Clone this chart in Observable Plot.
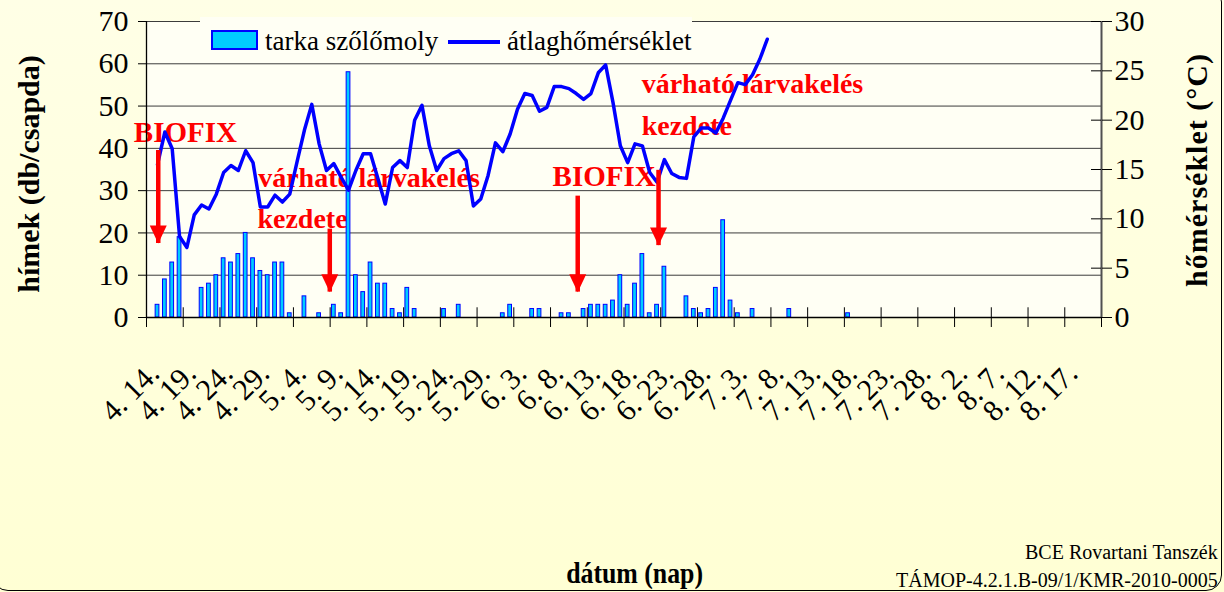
<!DOCTYPE html>
<html>
<head>
<meta charset="utf-8">
<script src="https://cdn.jsdelivr.net/npm/d3@7"></script>
<script src="https://cdn.jsdelivr.net/npm/@observablehq/plot@0.6"></script>
<style>
  html, body { margin: 0; padding: 0; background: #FFFFE0; }
  body { width: 1224px; height: 592px; overflow: hidden; font-family: "Liberation Serif", "Times New Roman", serif; }
  #wrap { position: relative; width: 1224px; height: 592px; overflow: hidden;
          background: linear-gradient(#FFFFE6, #FFFFD4); }
  #chart { position: absolute; left: 0; top: 0; }
  #border { position: absolute; left: -8px; top: -14px; width: 1230px; height: 605px; box-sizing: border-box;
            border: 1.5px solid #000; border-radius: 16px; pointer-events: none; }
  .abs { position: absolute; white-space: nowrap; }
  #legend { position: absolute; left: 200px; top: 17px; width: 492px; height: 41px; background: #FFFFF4; }
  .ylab { font-weight: bold; font-size: 30px; line-height: 30px; transform-origin: center center; }
</style>
</head>
<body>
<div id="wrap">
  <div id="chart"></div>
  <div id="legend">
    <div class="abs" style="left:11px;top:13px;width:43px;height:16px;background:#00CCFF;border:2px solid #0000FF;"></div>
    <div class="abs" id="lg1" style="left:65px;top:11px;font-size:27px;line-height:27px;"></div>
    <div class="abs" style="left:248px;top:23px;width:52px;height:4px;background:#0000FF;"></div>
    <div class="abs" id="lg2" style="left:307px;top:11px;font-size:27px;line-height:27px;"></div>
  </div>
  <div class="abs ylab" id="ytitleL"></div>
  <div class="abs ylab" id="ytitleR" style="letter-spacing:1px;"></div>
  <div class="abs" id="xtitle" style="font-weight:bold;font-size:30px;line-height:30px;"></div>
  <div class="abs" id="credit1" style="font-size:20px;line-height:20px;"></div>
  <div class="abs" id="credit2" style="font-size:20px;line-height:20px;"></div>
  <div id="border"></div>
</div>
<script>
// ---------------- data ----------------
// daily categories: 130 days starting 4. 14. (to 8. 21.)
const dayCount = 130;
const tickLabels = ["4. 14.","4. 19.","4. 24.","4. 29.","5. 4.","5. 9.","5. 14.","5. 19.","5. 24.","5. 29.",
  "6. 3.","6. 8.","6. 13.","6. 18.","6. 23.","6. 28.","7. 3.","7. 8.","7. 13.","7. 18.",
  "7. 23.","7. 28.","8. 2.","8. 7.","8. 12.","8. 17."];
// tarka szőlőmoly – males per trap per day (index 0 = 4. 14.)
const mothCounts = [
  0,3,9,13,19,0,0,7,8,10,
  14,13,15,20,14,11,10,13,13,1,
  0,5,0,1,0,3,1,58,10,6,
  13,8,8,2,1,7,2,0,0,0,
  2,0,3,0,0,0,0,0,1,3,
  0,0,2,2,0,0,1,1,0,2,
  3,3,3,4,10,3,8,15,1,3,
  12,0,0,5,2,1,2,7,23,4,
  1,0,2,0,0,0,0,2,0,0,
  0,0,0,0,0,1,0,0,0,0,
  0,0,0,0,0,0,0,0,0,0,
  0,0,0,0,0,0,0,0,0,0,
  0,0,0,0,0,0,0,0,0,0
];
// átlaghőmérséklet (°C), from day index 1 (4. 15.) to 84 (7. 7.)
const tempStartDay = 1;
const meanTemp = [
  15.5,18.8,17.1,8.2,7.1,10.4,11.4,11.0,12.5,14.7,
  15.4,14.9,16.9,15.7,11.2,11.2,12.4,11.7,12.5,15.8,
  19.0,21.6,17.6,14.9,15.6,14.2,12.9,14.9,16.6,16.6,
  14.1,11.5,15.2,15.9,15.2,20.0,21.5,17.4,14.9,16.1,
  16.6,16.9,15.9,11.3,12.0,14.4,17.7,16.8,18.6,21.1,
  22.7,22.5,20.9,21.3,23.4,23.4,23.2,22.7,22.1,22.7,
  24.8,25.6,21.8,17.4,15.7,17.6,17.4,14.7,13.7,16.0,
  14.6,14.2,14.1,18.3,19.2,19.2,18.7,20.2,22.0,23.8,
  23.6,24.6,26.2,28.2
];
const countTicks = [0,10,20,30,40,50,60,70];
const tempTicks = [0,5,10,15,20,25,30];
const countMax = 70, tempMax = 30;

// annotations (day index, count-axis value)
const biofixNotes = [
  {day: 5.3,  value: 43.8, text: "BIOFIX"},
  {day: 62.3, value: 33.3, text: "BIOFIX"}
];
const larvaNotes = [
  {day: 15.2, value: 32.9, text: "várható lárvakelés"},
  {day: 15.1, value: 23.2, text: "kezdete"},
  {day: 67.4, value: 55.2, text: "várható lárvakelés"},
  {day: 67.4, value: 45.2, text: "kezdete"}
];
const noteArrows = [
  {day: 1.6,   from: 39.5, to: 17.5},
  {day: 24.95, from: 20.9, to: 6.0},
  {day: 58.7,  from: 28.7, to: 6.0},
  {day: 69.7,  from: 34.8, to: 17.0}
];

// ---------------- build ----------------
const bars = mothCounts.map((v, i) => ({day: i, count: v})).filter(d => d.count > 0);
const temps = meanTemp.map((t, k) => ({day: k + tempStartDay, temp: t}));
const toCount = t => t * countMax / tempMax;
const labelPos = tickLabels.map((_, k) => k * 5 + 0.5);
const labelAt = new Map(labelPos.map((p, k) => [p, tickLabels[k]]));
const boundaryTicks = d3.range(0, dayCount + 1, 5);

const arrowHead = {
  draw(ctx, size) {
    ctx.moveTo(0, 0);
    ctx.lineTo(-8.5, -18);
    ctx.lineTo(8.5, -18);
    ctx.closePath();
  }
};
const noteStyle = {x: "day", y: "value", text: "text", fill: "#FF0000",
  fontWeight: "bold", fontFamily: "Liberation Serif"};

const chart = Plot.plot({
  width: 1224,
  height: 592,
  marginLeft: 146,
  marginRight: 123,
  marginTop: 21,
  marginBottom: 275,
  x: {type: "linear", domain: [0, dayCount]},
  y: {domain: [0, countMax]},
  style: {background: "transparent", fontFamily: "Liberation Serif, Times New Roman, serif", color: "#000", overflow: "visible"},
  marks: [
    Plot.frame({fill: "#FFFFF4", stroke: null}),
    Plot.ruleY(countTicks.slice(1), {stroke: "#3c3c3c", strokeWidth: 1}),
    Plot.text(biofixNotes, {...noteStyle, fontSize: 29, textAnchor: "middle"}),
    Plot.text(larvaNotes, {...noteStyle, fontSize: 28, textAnchor: "start"}),
    Plot.rectY(bars, {x: "day", interval: 1, y: "count", fill: "#00CCFF", stroke: "#0000FF",
      strokeWidth: 1, insetLeft: 1.8, insetRight: 1.8}),
    Plot.line(temps, {x: d => d.day + 0.5, y: d => toCount(d.temp), stroke: "#0000FF",
      strokeWidth: 3.5, strokeLinejoin: "round"}),
    Plot.ruleX(noteArrows, {x: "day", y1: "from", y2: "to", stroke: "#FF0000", strokeWidth: 4.5}),
    Plot.dot(noteArrows, {x: "day", y: "to", symbol: arrowHead, fill: "#FF0000", stroke: null, r: 5}),
    Plot.ruleY([0], {stroke: "#000", strokeWidth: 1.3}),
    Plot.ruleX([0], {stroke: "#000", strokeWidth: 1.3}),
    Plot.ruleX([dayCount], {stroke: "#505050", strokeWidth: 2}),
    // inward halves of crossing ticks
    Plot.ruleX(boundaryTicks.slice(1, -1), {y1: 0, y2: 2.3, stroke: "#000", strokeWidth: 1}),
    Plot.ruleY(tempTicks.map(toCount), {x1: dayCount - 1.36, x2: dayCount, stroke: "#000", strokeWidth: 1}),
    Plot.axisY({anchor: "left", ticks: countTicks, tickSize: 8, tickPadding: 10, fontSize: 30, label: null}),
    Plot.axisY({anchor: "right", ticks: tempTicks.map(toCount), tickFormat: d => String(Math.round(d * tempMax / countMax)),
      tickSize: 10, tickPadding: 3, fontSize: 30, label: null}),
    Plot.axisX({ticks: boundaryTicks, tickFormat: () => "", tickSize: 10, label: null}),
    Plot.axisX({ticks: labelPos, tickFormat: d => labelAt.get(d), tickSize: 0, tickPadding: 51, dx: 4,
      tickRotate: -45, fontSize: 30, label: null})
  ]
});
document.getElementById("chart").appendChild(chart);

// ---------------- surrounding texts ----------------
document.getElementById("lg1").textContent = "tarka szőlőmoly";
document.getElementById("lg2").textContent = "átlaghőmérséklet";

function placeRotated(id, text, cx, cy) {
  const el = document.getElementById(id);
  el.textContent = text;
  const w = el.offsetWidth, h = el.offsetHeight;
  el.style.left = (cx - w / 2) + "px";
  el.style.top = (cy - h / 2) + "px";
  el.style.transform = "rotate(-90deg)";
}
placeRotated("ytitleL", "hímek (db/csapda)", 29, 174);
placeRotated("ytitleR", "hőmérséklet (°C)", 1197, 170);

const xt = document.getElementById("xtitle");
xt.textContent = "dátum (nap)";
xt.style.transform = "scaleX(0.86)";
xt.style.left = (634 - xt.offsetWidth / 2) + "px";
xt.style.top = "558px";

const c1 = document.getElementById("credit1");
c1.textContent = "BCE Rovartani Tanszék";
c1.style.left = (1218 - c1.offsetWidth) + "px";
c1.style.top = "542px";
const c2 = document.getElementById("credit2");
c2.textContent = "TÁMOP-4.2.1.B-09/1/KMR-2010-0005";
c2.style.left = (1218 - c2.offsetWidth) + "px";
c2.style.top = "570px";
</script>
</body>
</html>
